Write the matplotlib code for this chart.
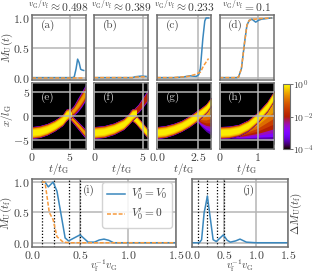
import matplotlib
matplotlib.use("Agg")
import matplotlib.pyplot as plt
import numpy as np
from matplotlib.colors import LogNorm

W, H = 314, 274

plt.rcParams["mathtext.fontset"] = "cm"
plt.rcParams["font.family"] = ["cmr10", "DejaVu Serif"]
plt.rcParams["axes.formatter.use_mathtext"] = True
plt.rcParams["font.size"] = 8.5

titles = [r"$^{v_{\mathrm{G}}/v_{\mathrm{f}}}\approx 0.498$", r"$^{v_{\mathrm{G}}/v_{\mathrm{f}}}\approx 0.389$",
          r"$^{v_{\mathrm{G}}/v_{\mathrm{f}}}\approx 0.233$", r"$^{v_{\mathrm{G}}/v_{\mathrm{f}}}=0.1$"]
xmax = [7.05, 5.5, 3.3, 1.43]

# top row, M_U(t)
a_t = [0, 5.3, 5.55, 5.8, 6.0, 6.2, 6.4, 6.55, 6.8]
a_blue = [0, 0, 0.01, 0.15, 0.31, 0.25, 0.14, 0.13, 0.12]
a_orange_t = [0, 6.8]
a_orange = [0, 0]
b_t = [0, 3.9, 4.2, 4.8, 5.3]
b_blue = [0, 0, 0.015, 0.025, 0.02]
b_orange_t = [0, 3.9, 4.3, 5.3]
b_orange = [0, 0, 0.01, 0.015]
c_t = [0, 1.0, 1.6, 2.0, 2.4, 2.55, 2.65, 2.8, 2.92, 3.0, 3.15]
c_blue = [0, 0, 0.01, 0.03, 0.02, 0.05, 0.15, 0.65, 0.95, 1.0, 1.0]
c_orange_t = [0, 1.0, 1.9, 2.3, 2.65, 2.85, 3.15]
c_orange = [0, 0, 0.02, 0.05, 0.09, 0.2, 0.32]
d_t = [0, 0.45, 0.5, 0.575, 0.66, 0.72, 0.78, 0.85, 0.95, 1.02, 1.1, 1.36]
d_blue = [0, 0, 0.01, 0.15, 0.6, 0.88, 0.96, 0.98, 0.93, 0.96, 0.98, 1.0]
d_orange = [0, 0, 0.01, 0.15, 0.6, 0.88, 0.96, 0.98, 0.98, 0.99, 0.99, 1.0]

top_curves = [
    (a_t, a_blue, a_orange_t, a_orange),
    (b_t, b_blue, b_orange_t, b_orange),
    (c_t, c_blue, c_orange_t, c_orange),
    (d_t, d_blue, d_t, d_orange),
]

# density bands, each one (peak, t, centre, half width)
e_bands = [
    (0.25, [4.9, 5.5, 6.0, 6.5, 7.05], [0.0, -1.0, -1.9, -2.8, -3.8], [0.6, 0.8, 0.9, 1.0, 1.1]),
    (0.4, [4.9, 5.5, 6.0, 6.5, 7.05], [0.5, 1.2, 2.3, 3.5, 5.0], [0.8, 1.2, 1.6, 1.8, 1.9]),
    (1.0, [0, 1, 2, 3, 4, 4.5, 4.9, 5.2], [-3.5, -3.3, -2.8, -2.0, -0.9, 0.2, 0.6, 0.3],
     [1.3, 1.3, 1.25, 1.2, 1.2, 1.3, 1.1, 0.7]),
]
f_bands = [
    (0.02, [4.0, 4.5, 5.0, 5.5], [0.8, 1.6, 3.0, 4.5], [0.7, 1.0, 1.2, 1.3]),
    (0.8, [3.7, 4.2, 4.7, 5.1, 5.5], [0.3, -0.6, -1.8, -2.8, -3.8], [1.1, 1.0, 1.0, 1.0, 1.0]),
    (1.0, [0, 1, 2, 3, 3.5, 3.9, 4.3], [-3.5, -3.3, -2.7, -1.7, -0.7, 0.3, 0.7],
     [1.3, 1.3, 1.25, 1.2, 1.2, 1.3, 0.9]),
]
g_bands = [
    (1.0, [0, 0.5, 1.0, 1.5, 2.0, 2.4, 2.7, 3.0, 3.3], [-3.5, -3.3, -2.8, -2.1, -1.1, -0.1, 0.7, 1.6, 3.0],
     [1.3, 1.3, 1.25, 1.2, 1.2, 1.2, 1.1, 1.0, 1.0]),
]
h_bands = [
    (1.0, [0, 0.25, 0.5, 0.75, 1.0, 1.25, 1.43], [-3.5, -3.4, -3.0, -2.0, -0.3, 2.0, 4.3],
     [1.3, 1.3, 1.25, 1.2, 1.15, 1.1, 1.1]),
]
# one-sided tails below the main band: (peak, t, top edge, depth)
g_tail = (0.3, [2.4, 2.7, 3.0, 3.3], [0.0, 0.7, 1.6, 3.0], [1.0, 3.2, 5.3, 7.6])
h_tail = (0.3, [0.25, 0.6, 1.0, 1.43], [-3.4, -2.7, -0.3, 4.3], [1.4, 2.3, 5.0, 10.3])
maps = [e_bands, f_bands, g_bands, h_bands]
tails = [None, None, g_tail, h_tail]
levels = [1e-4, 3e-4, 1e-3, 3e-3, 1e-2, 3e-2, 0.1, 0.25, 0.5, 0.8]
core_widths = [1.0, 0.98, 0.96, 0.93, 0.9, 0.86, 0.8, 0.72, 0.62, 0.45]
fan_widths = [1.0, 0.92, 0.84, 0.76, 0.68, 0.58, 0.46, 0.32, 0.2, 0.1]

# bottom row
vf = [0.1, 0.135, 0.17, 0.22, 0.26, 0.31, 0.345, 0.38, 0.44, 0.5, 0.55, 0.585, 0.65, 0.7, 0.75, 0.8, 0.85, 1.0, 1.5]
i_blue = [1.0, 1.0, 0.92, 1.0, 0.85, 0.4, 0.08, 0.03, 0.08, 0.13, 0.06, 0.01, 0.01, 0.045, 0.06, 0.04, 0.0, 0.0, 0.0]
vf_o = [0.1, 0.135, 0.18, 0.22, 0.26, 0.325, 0.4, 1.5]
i_orange = [1.0, 1.0, 0.5, 0.38, 0.1, 0.01, 0.0, 0.0]
j_x = [0.0, 0.115, 0.15, 0.19, 0.21, 0.24, 0.28, 0.33, 0.38, 0.43, 0.49, 0.55, 0.6, 0.68, 0.75, 0.85, 1.0, 1.5]
j_delta = [0.0, 0.0, 0.05, 0.5, 0.6, 0.77, 0.45, 0.05, 0.02, 0.07, 0.13, 0.04, 0.01, 0.03, 0.06, 0.01, 0.0, 0.0]
marked = [0.1, 0.233, 0.389, 0.498]

BLUE = "#3a87bd"
ORANGE = "#f79a3c"
GRID = "#b5b5b5"
FRAME = "#6e6e6e"
TEXT = "#404040"
LABEL_SIZE = 8
DASH = (0, (2.6, 1.2))

cmap = plt.get_cmap("gnuplot")
norm = LogNorm(1e-4, 1)


def box(left, top, right, bottom):
    ax = fig.add_axes([left / W, 1 - bottom / H, (right - left) / W, (bottom - top) / H])
    for s in ax.spines.values():
        s.set_color(FRAME)
        s.set_linewidth(1.1)
    ax.tick_params(length=0, pad=1.5, labelcolor=TEXT)
    ax.set_axisbelow(True)
    ax.grid(True, color=GRID, lw=1.1)
    return ax


def ticks(ax, xs, ys, xlab, ylab):
    ax.set_xticks(xs)
    ax.set_yticks(ys)
    ax.set_xticklabels(xlab)
    ax.set_yticklabels(ylab)


def label(x, y, s, rotation=0, size=LABEL_SIZE):
    fig.text(x / W, 1 - y / H, s, ha="center", va="center", rotation=rotation, color=TEXT, fontsize=size)


fig = plt.figure(figsize=(W / 100, H / 100), dpi=100)

top_x = [(32, 85.6), (94.3, 148), (157, 211), (219.5, 274)]
for n, (l, r) in enumerate(top_x):
    ax = box(l, 15, r, 80)
    t, blue, t2, orange = top_curves[n]
    ax.plot(t, blue, color=BLUE, lw=1.1)
    ax.plot(t2, orange, color=ORANGE, lw=1.1, ls=DASH)
    ax.set_xlim(0, xmax[n])
    ax.set_ylim(-0.04, 1.05)
    xt = [0, 5] if n < 2 else ([0, 2.5] if n == 2 else [0, 1])
    ticks(ax, xt, [0, 0.5, 1], [], ["$0.0$", "$0.5$", "$1.0$"] if n == 0 else [])
    ax.text(0.16, 0.8, f"({'abcd'[n]})", transform=ax.transAxes, color=TEXT, fontsize=8)
    label((l + r) / 2, 7, titles[n], size=8.3)
label(7, 48, r"$M_{\mathrm{U}}(t)$", rotation=90)

map_labels = [["$0$", "$5$"], ["$0$", "$5$"], ["$0.0$", "$2.5$"], ["$0$", "$1$"]]
for n, (l, r) in enumerate(top_x):
    ax = box(l, 83, r, 149)
    ax.set_facecolor("black")
    ax.set_axisbelow(False)
    if tails[n] is not None:
        peak, t, edge, depth = tails[n]
        t, edge, depth = np.array(t), np.array(edge), np.array(depth)
        for lev, frac in zip(levels, fan_widths):
            if lev > peak:
                break
            ax.fill_between(t, edge - depth * frac, edge, color=cmap(norm(lev)), lw=0)
    for peak, t, c, hw in maps[n]:
        t, c, hw = np.array(t), np.array(c), np.array(hw)
        widths = core_widths if peak >= 0.8 else fan_widths
        for lev, frac in zip(levels, widths):
            if lev > peak:
                break
            ax.fill_between(t, c - hw * frac, c + hw * frac, color=cmap(norm(lev)), lw=0)
    ax.set_xlim(0, xmax[n])
    ax.set_ylim(-7, 7)
    xt = [0, 5] if n < 2 else ([0, 2.5] if n == 2 else [0, 1])
    ticks(ax, xt, [-5, 0, 5], map_labels[n], ["$-5$", "$0$", "$5$"] if n == 0 else [])
    label((l + r) / 2, 169, r"$t/t_{\mathrm{G}}$")
    ax.text(0.16, 0.74, f"({'efgh'[n]})", transform=ax.transAxes, color="#d8d8d8", fontsize=8)
label(7, 116, r"$x/l_{\mathrm{G}}$", rotation=90)

cax = fig.add_axes([283 / W, 1 - 149 / H, 6.5 / W, 65 / H])
sm = plt.cm.ScalarMappable(norm=norm, cmap=cmap)
cb = fig.colorbar(sm, cax=cax)
cb.set_ticks([1e-4, 1e-2, 1], labels=["$10^{-4}$", "$10^{-2}$", "$10^{0}$"])
cb.minorticks_off()
cb.ax.tick_params(length=2, width=0.7, pad=0.8, labelcolor=TEXT, color=FRAME, labelsize=7)
cb.outline.set_edgecolor(FRAME)
cb.outline.set_linewidth(0.8)

ax = box(32, 179, 176, 247)
for v in marked:
    ax.axvline(v, color="black", lw=0.9, ls=(0, (1, 1.5)))
ax.plot(vf, i_blue, color=BLUE, lw=1.1, label=r"$V_0' = V_0$")
ax.plot(vf_o, i_orange, color=ORANGE, lw=1.1, ls=DASH, label=r"$V_0' = 0$")
ax.set_xlim(0, 1.5)
ax.set_ylim(-0.07, 1.05)
ticks(ax, [0, 0.5, 1, 1.5], [0, 0.5, 1], ["$0.0$", "$0.5$", "$1.0$", "$1.5$"], ["$0.0$", "$0.5$", "$1.0$"])
label(6.5, 213, r"$M_{\mathrm{U}}(t_{\mathrm{f}})$", rotation=90)
label(104, 266, r"$v_{\mathrm{f}}^{-1}v_{\mathrm{G}}$", size=7.4)
ax.legend(loc="upper right", bbox_to_anchor=(0.97, 0.95), borderaxespad=0, fontsize=8.2, framealpha=0.85,
          handlelength=1.6, handletextpad=0.5, labelspacing=0.35, borderpad=0.4, edgecolor="#cccccc", labelcolor=TEXT)
ax.text(0.355, 0.8, "(i)", transform=ax.transAxes, color=TEXT, fontsize=8)

ax = box(192, 179, 288, 247)
for v in marked:
    ax.axvline(v, color="black", lw=0.9, ls=(0, (1, 1.5)))
ax.plot(j_x, j_delta, color=BLUE, lw=1.1)
ax.set_xlim(0, 1.5)
ax.set_ylim(-0.07, 1.05)
ticks(ax, [0, 0.5, 1, 1.5], [0, 0.5, 1], ["$0.0$", "$0.5$", "$1.0$", "$1.5$"], [])
label(296, 213, r"$\Delta M_{\mathrm{U}}(t_{\mathrm{f}})$", rotation=90)
label(240, 266, r"$v_{\mathrm{f}}^{-1}v_{\mathrm{G}}$", size=7.4)
ax.text(0.53, 0.8, "(j)", transform=ax.transAxes, color=TEXT, fontsize=8)

fig.savefig("out.png", dpi=100)
